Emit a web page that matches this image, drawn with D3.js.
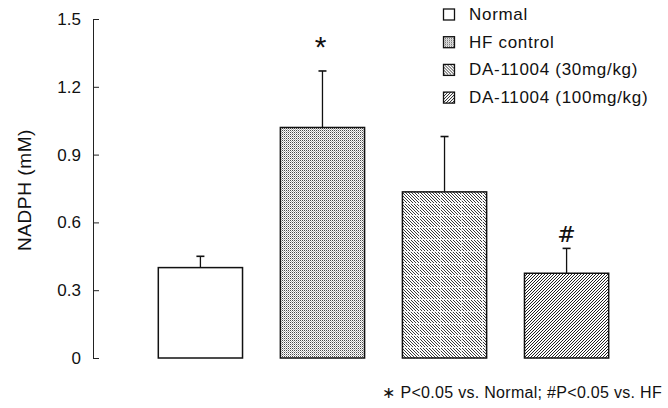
<!DOCTYPE html>
<html><head><meta charset="utf-8">
<script src="https://cdn.jsdelivr.net/npm/d3@7"></script>
<style>body{margin:0;background:#fff}svg{display:block;font-family:Arial,"Liberation Sans",sans-serif}</style>
</head><body><div id="c"></div>
<script>
const categories = ["Normal", "HF control", "DA-11004 (30mg/kg)", "DA-11004 (100mg/kg)"];
const means = [0.40, 1.02, 0.735, 0.375];
const errors = [0.05, 0.25, 0.245, 0.11];
const yTicks = [0, 0.3, 0.6, 0.9, 1.2, 1.5];
const yTickLabels = ["0", "0.3", "0.6", "0.9", "1.2", "1.5"];
const marks = ["", "*", "", "#"];
const patternIds = ["none", "dots", "back", "fwd"];
const footnote = "∗ P<0.05 vs. Normal; #P<0.05 vs. HF";

const W = 668, H = 408;
const svg = d3.select("#c").append("svg").attr("width", W).attr("height", H);
const defs = svg.append("defs");

// dots pattern
const pd = defs.append("pattern").attr("id","dots").attr("patternUnits","userSpaceOnUse").attr("width",2).attr("height",2);
pd.append("rect").attr("width",2).attr("height",2).attr("fill","#fff");
pd.append("rect").attr("x",0).attr("y",0).attr("width",1).attr("height",1).attr("fill","#4a4a4a");
pd.append("rect").attr("x",1).attr("y",1).attr("width",1).attr("height",1).attr("fill","#b0b0b0");
// back-slash hatch with white grid gaps
const pb = defs.append("pattern").attr("id","back").attr("patternUnits","userSpaceOnUse").attr("width",21).attr("height",12);
pb.append("rect").attr("width",21).attr("height",12).attr("fill","#fff");
const bp = [];
for (let k = -21; k <= 21; k += 3) bp.push(`M${k},0 L${k+12},12`);
pb.append("path").attr("d", bp.join(" ")).attr("stroke","#222").attr("stroke-width",0.9);
pb.append("rect").attr("x",0).attr("y",11).attr("width",21).attr("height",1).attr("fill","#fff").attr("opacity",0.8);
pb.append("rect").attr("x",20).attr("y",0).attr("width",1).attr("height",12).attr("fill","#fff").attr("opacity",0.7);
// forward-slash hatch
const pf = defs.append("pattern").attr("id","fwd").attr("patternUnits","userSpaceOnUse").attr("width",3).attr("height",3);
pf.append("rect").attr("width",3).attr("height",3).attr("fill","#fff");
pf.append("path").attr("d","M-1,4 L4,-1 M-1,1 L1,-1 M2,4 L4,2").attr("stroke","#222").attr("stroke-width",1.0);

const fillFor = i => patternIds[i] === "none" ? "#fff" : `url(#${patternIds[i]})`;

const x = d3.scaleBand().domain(categories).range([140, 627]).paddingInner(0.31).paddingOuter(0.15);
const y = d3.scaleLinear().domain([0, 1.5]).range([358, 19]);

// y axis (ticks pointing inward)
const ax = svg.append("g").attr("transform","translate(93,0)")
  .call(d3.axisLeft(y).tickValues(yTicks).tickFormat((d,i)=>yTickLabels[i]).tickSizeInner(-6).tickSizeOuter(0).tickPadding(12));
ax.attr("font-size",17).attr("font-family","Arial, 'Liberation Sans', sans-serif");
ax.select(".domain").attr("stroke","#222");
ax.selectAll(".tick line").attr("stroke","#222");
ax.selectAll(".tick text").attr("font-size",17).attr("fill","#111");

svg.append("text").attr("transform","translate(31,190) rotate(-90)").attr("text-anchor","middle")
  .attr("font-size",19).attr("letter-spacing",0.6).attr("fill","#111").text("NADPH (mM)");

// error bars
categories.forEach((c,i)=>{
  const cx = x(c) + x.bandwidth()/2;
  svg.append("line").attr("x1",cx).attr("x2",cx).attr("y1",y(means[i])).attr("y2",y(means[i]+errors[i]))
    .attr("stroke","#111").attr("stroke-width",1.3);
  svg.append("line").attr("x1",cx-4).attr("x2",cx+4).attr("y1",y(means[i]+errors[i])).attr("y2",y(means[i]+errors[i]))
    .attr("stroke","#111").attr("stroke-width",1.6);
});
// bars
svg.selectAll("rect.bar").data(categories).enter().append("rect").attr("class","bar")
  .attr("x",d=>x(d)).attr("width",x.bandwidth())
  .attr("y",(d,i)=>y(means[i])).attr("height",(d,i)=>y(0)-y(means[i]))
  .attr("fill",(d,i)=>fillFor(i)).attr("stroke","#111").attr("stroke-width",1.5);

// significance marks
categories.forEach((c,i)=>{
  if(!marks[i]) return;
  const cx = x(c) + x.bandwidth()/2;
  const top = y(means[i]+errors[i]);
  if (marks[i] === "*") {
    svg.append("text").attr("x",cx - 2).attr("y",top - 14)
      .attr("text-anchor","middle").attr("font-size",30).attr("fill","#111").text("*");
  } else {
    svg.append("text").attr("x",cx).attr("y",top - 6)
      .attr("text-anchor","middle").attr("font-size",22).attr("fill","#111")
      .attr("font-family","'DejaVu Serif', serif").text(marks[i]);
  }
});

// legend
const lg = svg.append("g").attr("transform","translate(443,8)");
categories.forEach((c,i)=>{
  const g = lg.append("g").attr("transform",`translate(0,${i*27.7})`);
  g.append("rect").attr("x",0.5).attr("y",1).attr("width",11).attr("height",11)
    .attr("fill",fillFor(i)).attr("stroke","#111").attr("stroke-width",1.3);
  g.append("text").attr("x",26).attr("y",12).attr("font-size",17).attr("letter-spacing",0.7).attr("fill","#111").text(c);
});

svg.append("text").attr("x",662).attr("y",398).attr("text-anchor","end").attr("font-size",16).attr("letter-spacing",0.3).attr("fill","#111").text(footnote);
</script></body></html>
